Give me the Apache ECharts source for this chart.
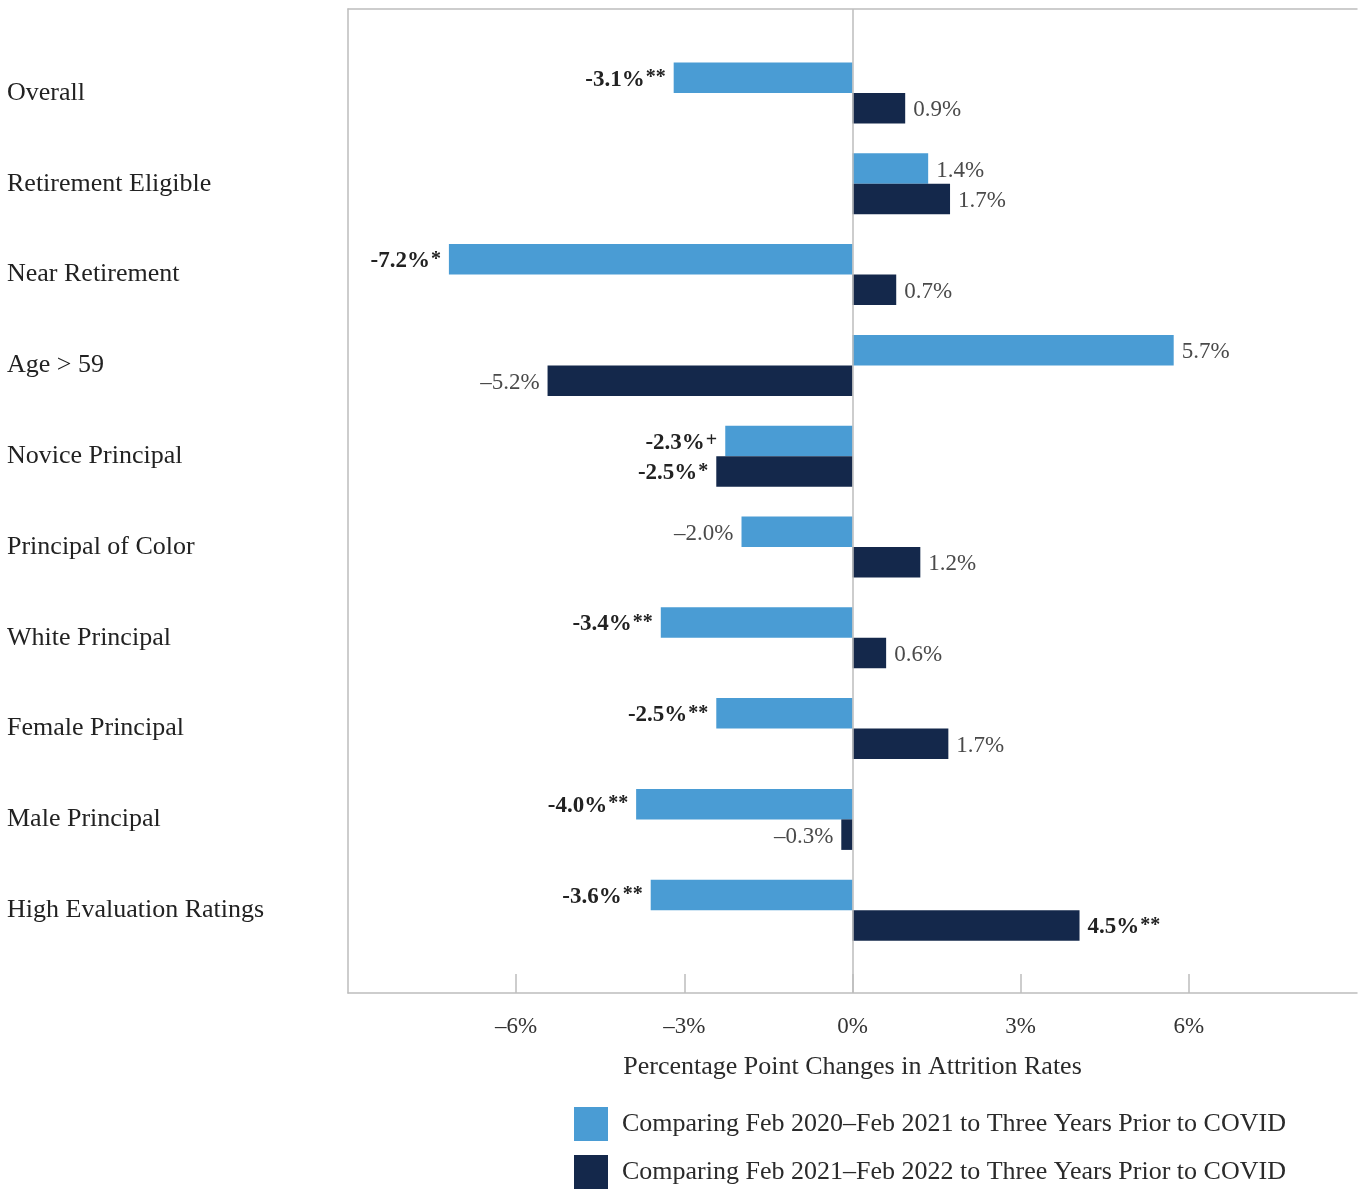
<!DOCTYPE html>
<html>
<head>
<meta charset="utf-8">
<script src="https://cdn.jsdelivr.net/npm/echarts@6/dist/echarts.min.js"></script>
<style>
html,body{margin:0;padding:0;background:#fff;}
#chart{width:1358px;height:1189px;}
</style>
</head>
<body>
<div id="chart"></div>
<script>
// ---- data ----
const categories = ["Overall","Retirement Eligible","Near Retirement","Age > 59","Novice Principal","Principal of Color","White Principal","Female Principal","Male Principal","High Evaluation Ratings"];
const seriesNames = ["Comparing Feb 2020\u2013Feb 2021 to Three Years Prior to COVID","Comparing Feb 2021\u2013Feb 2022 to Three Years Prior to COVID"];
// bar lengths as drawn in the picture (percentage points)
const valuesA = [-3.19, 1.35, -7.2, 5.73, -2.27, -1.98, -3.42, -2.43, -3.86, -3.6];
const valuesB = [0.94, 1.74, 0.78, -5.44, -2.43, 1.21, 0.6, 1.71, -0.2, 4.05];
// printed labels
const labelsA = ["-3.1%", "1.4%", "-7.2%", "5.7%", "-2.3%", "\u20132.0%", "-3.4%", "-2.5%", "-4.0%", "-3.6%"];
const marksA  = ["**", "", "*", "", "+", "", "**", "**", "**", "**"];
const labelsB = ["0.9%", "1.7%", "0.7%", "\u20135.2%", "-2.5%", "1.2%", "0.6%", "1.7%", "\u20130.3%", "4.5%"];
const marksB  = ["", "", "", "", "*", "", "", "", "", "**"];
const xMin = -9, xMax = 9;
const xTicks = [-6, -3, 0, 3, 6];

const FONT = "Liberation Serif";
const colA = "#4A9CD4", colB = "#14284B";

function buildData(vals, labels, marks){
  return vals.map((v,i)=>{
    const sig = marks[i] !== "";
    return {
      value: v,
      label: {
        show: true,
        position: v < 0 ? 'left' : 'right',
        distance: 8,
        offset: [0, 2],
        formatter: sig ? ('{b|' + labels[i] + '}{s|' + marks[i] + '}') : ('{n|' + labels[i] + '}'),
        rich: {
          n: {fontFamily: FONT, fontSize: 23, color: '#4a4a4a'},
          b: {fontFamily: FONT, fontSize: 23, fontWeight: 'bold', color: '#222'},
          s: {fontFamily: FONT, fontSize: 20, fontWeight: 'bold', color: '#222', verticalAlign: 'top', padding:[0,0,4,1]}
        }
      }
    };
  });
}

const chart = echarts.init(document.getElementById('chart'), null, {renderer:'canvas'});
const option = {
  animation: false,
  backgroundColor: '#fff',
  grid: [
    {left: 348, width: 1009, top: 47.6, height: 908, containLabel: false},
    {left: 348, width: 1009, top: 9, height: 984, containLabel: false}
  ],
  legend: {
    orient: 'vertical',
    left: 574, top: 1107,
    itemWidth: 34, itemHeight: 34, itemGap: 14,
    icon: 'rect',
    padding: 0,
    data: seriesNames,
    textStyle: {fontFamily: FONT, fontSize: 26, color: '#2a2a2a', padding: [5,0,0,9]}
  },
  xAxis: [
    {
      gridIndex: 0, type: 'value', min: xMin, max: xMax, interval: 3,
      position: 'bottom', offset: 37.4,
      axisLine: {show: true, lineStyle: {color: '#bdbdbd', width: 1.5}},
      axisTick: {show: true, inside: true, length: 19, customValues: xTicks, lineStyle: {color: '#bdbdbd', width: 1.5}},
      splitLine: {show: false},
      axisLabel: {
        margin: 22, fontFamily: FONT, fontSize: 23, color: '#333', customValues: xTicks,
        formatter: v => (v < 0 ? '\u2013' + Math.abs(v) + '%' : v + '%')
      },
      name: 'Percentage Point Changes in Attrition Rates',
      nameLocation: 'middle', nameGap: 61,
      nameTextStyle: {fontFamily: FONT, fontSize: 26, color: '#2a2a2a'}
    },
    {
      gridIndex: 1, type: 'value', min: xMin, max: xMax, position: 'top',
      axisLine: {show: true, onZero: false, lineStyle: {color: '#bdbdbd', width: 1.5}},
      axisTick: {show: false}, axisLabel: {show: false}, splitLine: {show: false}
    }
  ],
  yAxis: [
    {
      gridIndex: 0, type: 'category', data: categories, inverse: true,
      axisLine: {show: false}, axisTick: {show: false},
      axisLabel: {align: 'left', margin: 341, fontFamily: FONT, fontSize: 26, color: '#222', padding: [4,0,0,0]}
    },
    {
      gridIndex: 1, type: 'value', min: 0, max: 1, position: 'left',
      axisLine: {show: true, onZero: false, lineStyle: {color: '#bdbdbd', width: 1.5}},
      axisTick: {show: false}, axisLabel: {show: false}, splitLine: {show: false}
    }
  ],
  series: [
    {
      name: seriesNames[0], type: 'bar', xAxisIndex: 0, yAxisIndex: 0,
      data: buildData(valuesA, labelsA, marksA),
      barWidth: 30.5, barGap: '0%', itemStyle: {color: colA}
    },
    {
      name: seriesNames[1], type: 'bar', xAxisIndex: 0, yAxisIndex: 0,
      data: buildData(valuesB, labelsB, marksB),
      barWidth: 30.5, barGap: '0%', itemStyle: {color: colB}
    },
    {
      type: 'scatter', xAxisIndex: 1, yAxisIndex: 1, data: [], silent: true,
      markLine: {
        silent: true, symbol: ['none','none'], label: {show: false},
        lineStyle: {color: '#bdbdbd', width: 1.5, type: 'solid'},
        data: [{xAxis: 0}]
      }
    }
  ]
};
chart.setOption(option);
</script>
</body>
</html>
